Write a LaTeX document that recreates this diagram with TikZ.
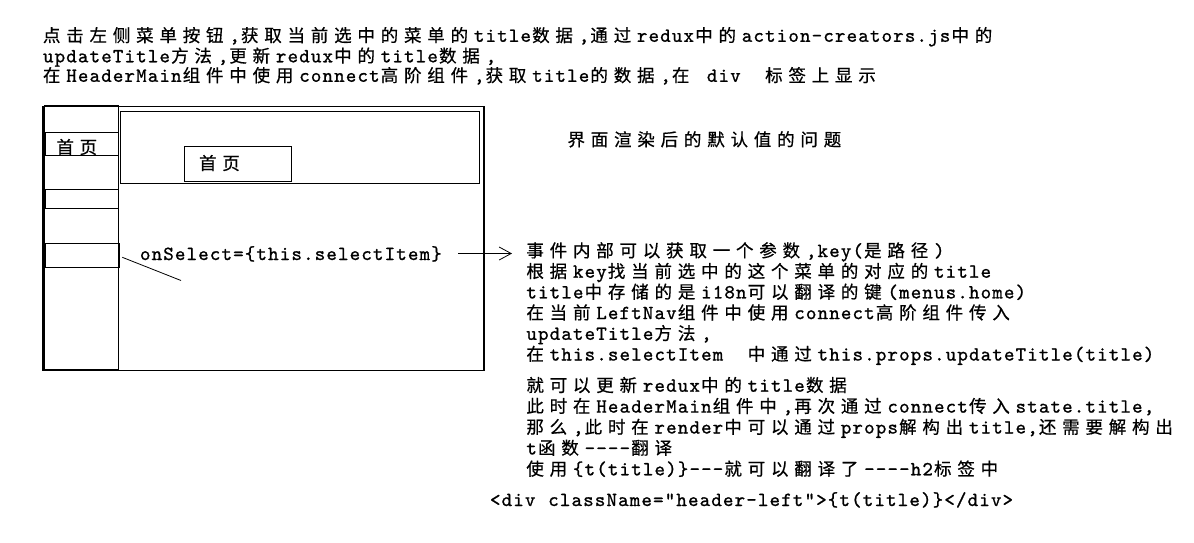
\documentclass[tikz,border=0pt]{standalone}
\usepackage{fontspec}
\usetikzlibrary{arrows.meta}
\newfontfamily\zhfont{Noto Sans CJK SC}[Scale=0.875,LetterSpace=33.1,FakeBold=0.6]
\newfontfamily\latfont{lmmono10-regular.otf}[LetterSpace=5.75,FakeBold=1]
\newdimen\zhls \zhls=5.79pt
\newdimen\latls \latls=1.15pt
\XeTeXinterchartokenstate=1
\newXeTeXintercharclass\zhcls
\count255="4E00
\loop\XeTeXcharclass\count255=\zhcls\ifnum\count255<"9FFF\advance\count255 by 1\repeat
\XeTeXinterchartoks 0 \zhcls={\kern\latls\zhfont}
\XeTeXinterchartoks 4095 \zhcls={\zhfont}
\XeTeXinterchartoks \zhcls 0={\kern\zhls\latfont}
\XeTeXinterchartoks \zhcls 4095={\kern\zhls\latfont}
\XeTeXinterchartoks 0 4095={\kern\latls}
\begin{document}
\begin{tikzpicture}[x=1pt,y=-1pt,
  txt/.style={inner sep=0pt,outer sep=0pt,anchor=base west,font=\fontsize{20}{20}\selectfont\latfont},
  box/.style={draw=black,line width=1pt},
  thin/.style={draw=black,line width=0.8pt}]
\useasboundingbox[fill=white] (0,0) rectangle (1194,542);
% top description
\node[txt] (t1) at (43,41.8) {点击左侧菜单按钮,获取当前选中的菜单的title数据,通过redux中的action-creators.js中的};
\node[txt] (t2) at (43,62.3) {updateTitle方法,更新redux中的title数据,};
\node[txt] (t3) at (43,81.8) {在HeaderMain组件中使用connect高阶组件,获取title的数据,在\ div\ \ 标签上显示};
% wireframe
\draw[box,line width=1.2pt] (43,106.5) rectangle (484,370.3);
\draw[box] (44.5,105.7) rectangle (118.5,369.3);
\draw[box] (120.3,111.3) rectangle (479.3,183.3);
\draw[box] (184.3,146.3) rectangle (291.7,181.7);
\draw[box] (45,132.7) rectangle (118.5,155.7);
\draw[box] (45,189.7) rectangle (118.5,208.3);
\draw[box] (45,243.3) rectangle (119.3,267.3);
\node[txt] (nav1) at (56.4,153.7) {首页};
\node[txt] (head1) at (199.1,169.7) {首页};
\node[txt] (onsel) at (140,260) {onSelect=\{this.selectItem\}};
\coordinate (dA) at (122.3,257.3);
\coordinate (dB) at (181,280.5);
\draw[thin] (dA) -- (dB);
\coordinate (aS) at (458,253.5);
\coordinate (aE) at (512,253.5);
\draw[thin,-{Straight Barb[length=12pt,width=13pt,line width=0.8pt]}] (aS) -- (aE);
% title
\node[txt] (ttl) at (567.5,146) {界面渲染后的默认值的问题};
% right block
\node[txt] (e1) at (526.4,257) {事件内部可以获取一个参数,key(是路径)};
\node[txt] (e2) at (526.4,277.7) {根据key找当前选中的这个菜单的对应的title};
\node[txt] (e3) at (526.4,298.4) {title中存储的是i18n可以翻译的键(menus.home)};
\node[txt] (e4) at (526.4,319.1) {在当前LeftNav组件中使用connect高阶组件传入};
\node[txt] (e5) at (526.4,339.8) {updateTitle方法,};
\node[txt] (e6) at (526.4,360.5) {在this.selectItem\ \ 中通过this.props.updateTitle(title)};
\node[txt] (f1) at (526.4,391.7) {就可以更新redux中的title数据};
\node[txt] (f2) at (526.4,412.6) {此时在HeaderMain组件中,再次通过connect传入state.title,};
\node[txt] (f3) at (526.4,433.5) {那么,此时在render中可以通过props解构出title,还需要解构出};
\node[txt] (f4) at (526.4,454.4) {t函数-{}-{}-{}-翻译};
\node[txt] (f5) at (526.4,475.3) {使用\{t(title)\}-{}-{}-就可以翻译了-{}-{}-{}-h2标签中};
\node[txt] (dv) at (490,506) {<div className="header-left">\{t(title)\}</div>};
\end{tikzpicture}
\end{document}
